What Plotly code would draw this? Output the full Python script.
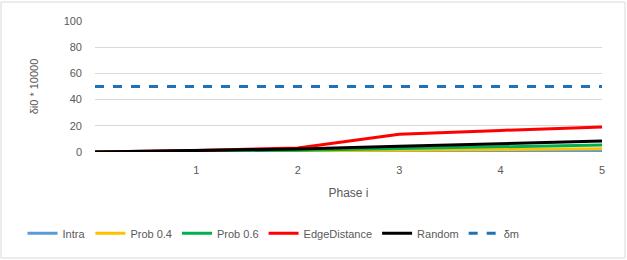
import plotly.graph_objects as go

phase = [0, 1, 2, 3, 4, 5]
intra = [0, 0.2, 0.4, 0.6, 0.7, 0.8]
prob04 = [0, 0.4, 0.8, 1.3, 1.8, 2.4]
prob06 = [0, 0.6, 1.4, 2.6, 3.9, 5.4]
edge = [0, 1.2, 3.0, 13.5, 16.5, 19.0]
rand = [0, 1.0, 2.3, 4.3, 6.4, 8.4]
delta_m = [50, 50, 50, 50, 50, 50]

names = ["Intra", "Prob 0.4", "Prob 0.6", "EdgeDistance", "Random", "δm"]
colors = ["#5b9bd5", "#ffc000", "#00b050", "#ff0000", "#000000", "#1f72b8"]
series = [intra, prob04, prob06, edge, rand, delta_m]

fig = go.Figure()
for nm, c, ys in zip(names, colors, series):
    fig.add_trace(go.Scatter(
        x=phase, y=ys, name=nm, mode="lines",
        line=dict(color=c, width=3, dash="dash" if nm == "δm" else "solid"),
    ))

font = "Liberation Sans, Arial"
fig.update_layout(
    width=627, height=260,
    margin=dict(l=95, r=25, t=21, b=108),
    paper_bgcolor="white", plot_bgcolor="white",
    font=dict(family=font, size=11, color="#595959"),
    showlegend=True,
    legend=dict(orientation="h", x=-0.143, xanchor="left", y=-0.51, yanchor="top",
                font=dict(size=11, color="#595959"),
                tracegroupgap=0, bgcolor="rgba(0,0,0,0)"),
    xaxis=dict(range=[0, 5], tickvals=[1, 2, 3, 4, 5], showgrid=False, zeroline=False,
               showline=False, ticks="", ticklabelstandoff=10,
               title=dict(text="Phase i", font=dict(size=12), standoff=13)),
    yaxis=dict(range=[0, 100], dtick=20, showgrid=True, gridcolor="#d9d9d9", zeroline=False,
               showline=False, ticks="", ticklen=0, ticklabelstandoff=12,
               title=dict(text="δi0 * 10000", font=dict(size=11), standoff=22)),
    shapes=[dict(type="rect", xref="paper", yref="paper", x0=-94/507, x1=1 + 23/507,
                 y0=-106/131, y1=1 + 19/131, line=dict(color="#d9d9d9", width=1))],
)
fig.write_html("out.html")
